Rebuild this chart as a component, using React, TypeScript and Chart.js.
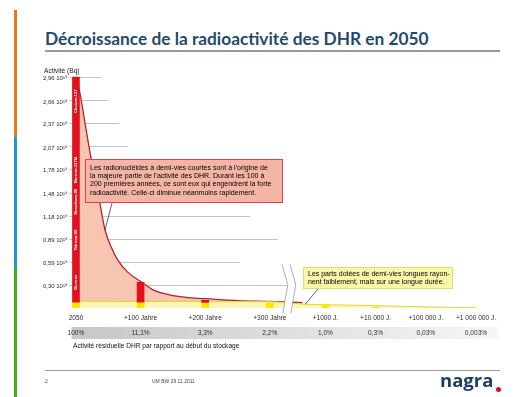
import React, { useEffect, useRef } from 'react';
import { Chart, registerables } from 'chart.js';

Chart.register(...registerables);

// ---------- data ----------
const YEARS = [0, 100, 200, 300, 1000, 10000, 100000, 1000000];
const X_LABELS = ['2050', '+100 Jahre', '+200 Jahre', '+300 Jahre', '+1000 J.', '+10 000 J.', '+100 000 J.', '+1 000 000 J.'];
const RESIDUAL_LABELS = ['100%', '11,1%', '3,3%', '2,2%', '1,0%', '0,3%', '0,03%', '0,003%'];
const Y_TICKS = [0.30, 0.59, 0.89, 1.18, 1.48, 1.78, 2.07, 2.37, 2.66, 2.96];
// activity in 10^19 Bq
const BAR_TOTAL = [2.96, 0.33, 0.098, 0.06, 0.045, 0.012, 0.002, 0.0003];
const BAR_LONG = [0.075, 0.075, 0.07, 0.06, 0.045, 0.012, 0.002, 0.0003];
const CURVE_YEARS = [0, 6, 14, 24, 37, 45, 54, 65, 80, 100, 120, 170, 200, 250, 300, 350];
const CURVE_TOTAL = [2.96, 2.76, 2.37, 1.89, 1.34, 1.0, 0.79, 0.61, 0.46, 0.34, 0.23, 0.135, 0.12, 0.095, 0.085, 0.07];
const LONG_YEARS = [0, 100, 200, 300, 350, 1000, 10000, 100000, 1000000];
const LONG_VALUES = [0.085, 0.084, 0.082, 0.08, 0.05, 0.042, 0.03, 0.015, 0.003];
const NUCLIDES = ['Cäsium-137', 'Barium-137M', 'Strontium-90', 'Yttrium-90', 'Diverse'];
const NUCLIDE_LEVELS = [2.65, 1.77, 1.36, 0.87, 0.33];

// broken time axis: linear over the first 300 years, logarithmic afterwards
const xf = (yr: number) => (yr <= 300 ? yr / 100 : 3.86 + 0.777 * (Math.log10(yr) - 3));

const FONT = '"Liberation Sans", Arial, Helvetica, sans-serif';
// how far (in axis units) each horizontal guide line reaches
const GRID_REACH = [3.31, 2.54, 3.13, 2.69, 1.15, 1.15, 0.8, 0.67, 0.5, 0.39];

const decor = {
  id: 'decor',
  beforeDraw(chart: any) {
    const { ctx, scales } = chart;
    const x = scales.x, x2 = scales.x2, y = scales.y;
    ctx.save();
    // residual activity band
    const g = ctx.createLinearGradient(x.left, 0, x.right, 0);
    g.addColorStop(0, '#c6c6c6');
    g.addColorStop(1, '#f6f6f6');
    ctx.fillStyle = g;
    ctx.fillRect(x.left + 2, x2.top + 3, x.right - x.left, 12);
    // guide lines
    ctx.strokeStyle = '#b4b4b4';
    ctx.lineWidth = 0.8;
    Y_TICKS.forEach((v, i) => {
      const py = Math.round(y.getPixelForValue(v)) + 0.5;
      ctx.beginPath();
      ctx.moveTo(x.left, py);
      ctx.lineTo(x.getPixelForValue(GRID_REACH[i]), py);
      ctx.stroke();
    });
    ctx.restore();
  },
  afterDatasetsDraw(chart: any) {
    const { ctx, scales } = chart;
    const x = scales.x, y = scales.y;
    ctx.save();
    // nuclide names in the 2050 bar
    const bar = chart.getDatasetMeta(3).data[0];
    ctx.fillStyle = '#ffffff';
    ctx.font = 'bold 4.2px ' + FONT;
    ctx.textAlign = 'center';
    ctx.textBaseline = 'middle';
    NUCLIDES.forEach((n, i) => {
      ctx.save();
      ctx.translate(bar.x + 0.3, y.getPixelForValue(NUCLIDE_LEVELS[i]));
      ctx.rotate(-Math.PI / 2);
      ctx.fillText(n, 0, 0);
      ctx.restore();
    });
    // axis break
    const bx = x.getPixelForValue(3) + 12;
    const top = y.getPixelForValue(0.56);
    const bot = chart.chartArea.bottom + 5;
    const mid = (top + bot) / 2 - 4;
    const gap = 8;
    ctx.beginPath();
    ctx.moveTo(bx, top);
    ctx.lineTo(bx + 6, mid);
    ctx.lineTo(bx + 1, bot);
    ctx.lineTo(bx + 1 + gap, bot);
    ctx.lineTo(bx + 6 + gap, mid);
    ctx.lineTo(bx + gap, top);
    ctx.closePath();
    ctx.fillStyle = '#ffffff';
    ctx.fill();
    ctx.strokeStyle = '#9a9a9a';
    ctx.lineWidth = 0.8;
    ctx.beginPath();
    ctx.moveTo(bx, top);
    ctx.lineTo(bx + 6, mid);
    ctx.lineTo(bx + 1, bot);
    ctx.moveTo(bx + gap, top);
    ctx.lineTo(bx + 6 + gap, mid);
    ctx.lineTo(bx + 1 + gap, bot);
    ctx.stroke();
    // callout pointers
    ctx.strokeStyle = '#3a3a3a';
    ctx.lineWidth = 0.8;
    ctx.beginPath();
    ctx.moveTo(112, 203);
    ctx.lineTo(x.getPixelForValue(xf(45)), y.getPixelForValue(1.0));
    ctx.moveTo(318, 289);
    ctx.lineTo(x.getPixelForValue(xf(400)), y.getPixelForValue(0.05));
    ctx.stroke();
    ctx.restore();
  },
};

const tickPositions = (s: any) => {
  s.ticks = YEARS.map((v) => ({ value: xf(v) }));
};

export default function App() {
  const ref = useRef<HTMLCanvasElement>(null);
  useEffect(() => {
    const shortBars = YEARS.map((yr, i) => ({ x: xf(yr), y: [BAR_LONG[i], BAR_TOTAL[i]] })).filter(
      (_d, i) => BAR_TOTAL[i] > BAR_LONG[i]
    );
    const chart = new Chart(ref.current as HTMLCanvasElement, {
      type: 'bar',
      data: {
        datasets: [
          {
            type: 'line',
            label: 'Aktivität gesamt',
            data: CURVE_YEARS.map((yr, i) => ({ x: xf(yr), y: CURVE_TOTAL[i] })),
            borderColor: '#b3232b',
            borderWidth: 1.3,
            backgroundColor: '#f7c5b0',
            fill: 'origin',
            pointRadius: 0,
            cubicInterpolationMode: 'monotone',
            order: 5,
          },
          {
            type: 'line',
            label: 'langlebig',
            data: LONG_YEARS.map((yr, i) => ({ x: xf(yr), y: LONG_VALUES[i] })),
            borderColor: '#e0d838',
            borderWidth: 1,
            backgroundColor: '#fcf6b4',
            fill: 'origin',
            pointRadius: 0,
            cubicInterpolationMode: 'monotone',
            order: 4,
          },
          {
            type: 'bar',
            label: 'langlebig (Balken)',
            data: YEARS.map((yr, i) => ({ x: xf(yr), y: [0, BAR_LONG[i]] })),
            backgroundColor: '#ffe400',
            barThickness: 7,
            grouped: false,
            order: 2,
          },
          {
            type: 'bar',
            label: 'kurzlebig (Balken)',
            data: shortBars,
            backgroundColor: '#e1121d',
            barThickness: 7,
            grouped: false,
            order: 1,
          },
        ] as any,
      },
      options: {
        animation: false,
        responsive: false,
        maintainAspectRatio: false,
        layout: { padding: { left: 0, right: 18, top: 70, bottom: 56 } },
        plugins: { legend: { display: false }, tooltip: { enabled: false } },
        scales: {
          x: {
            type: 'linear',
            position: 'bottom',
            min: -0.1,
            max: 6.5,
            offset: false,
            weight: 0,
            grid: { display: false, drawTicks: false },
            border: { display: false },
            afterBuildTicks: tickPositions,
            afterFit: (s: any) => { s.height = 16; },
            ticks: {
              autoSkip: false,
              maxRotation: 0,
              minRotation: 0,
              padding: 6,
              color: '#2a2a2a',
              font: { family: FONT, size: 6.6 },
              callback: (_v: any, i: number) => X_LABELS[i],
            },
          },
          x2: {
            type: 'linear',
            position: 'bottom',
            min: -0.1,
            max: 6.5,
            offset: false,
            weight: 1,
            grid: { display: false, drawTicks: false },
            border: { display: false },
            afterBuildTicks: tickPositions,
            afterFit: (s: any) => { s.height = 17; },
            ticks: {
              autoSkip: false,
              maxRotation: 0,
              minRotation: 0,
              padding: 5.5,
              color: '#333333',
              font: { family: FONT, size: 6.6 },
              callback: (_v: any, i: number) => RESIDUAL_LABELS[i],
            },
          },
          y: {
            type: 'linear',
            min: 0,
            max: 3.05,
            grid: { display: false, drawTicks: false },
            border: { display: false },
            afterBuildTicks: (s: any) => { s.ticks = Y_TICKS.map((v) => ({ value: v })); },
            afterFit: (s: any) => { s.width = 69.5; },
            ticks: {
              padding: 2,
              labelOffset: 1.5,
              color: '#2a2a2a',
              font: { family: FONT, size: 6 },
              callback: (v: any) => Number(v).toFixed(2).replace('.', ',') + ' 10¹⁹',
            },
          },
        },
      } as any,
      plugins: [decor],
    });
    return () => chart.destroy();
  }, []);

  const txt: React.CSSProperties = { position: 'absolute', fontFamily: FONT, whiteSpace: 'nowrap', color: '#111' };

  return (
    <div style={{ position: 'fixed', left: 0, top: 0, width: 514, height: 397, background: '#ffffff', overflow: 'hidden' }}>
      {/* side stripe */}
      <div style={{ position: 'absolute', left: 14, top: 10, width: 3, height: 127, background: '#f07814' }} />
      <div style={{ position: 'absolute', left: 14, top: 137, width: 3, height: 131, background: '#1e96d2' }} />
      <div style={{ position: 'absolute', left: 14, top: 268, width: 3, height: 129, background: '#3cb41e' }} />
      {/* title */}
      <div style={{ ...txt, left: 45, top: 30, fontFamily: 'Lato, "Open Sans", sans-serif', fontWeight: 700, fontSize: 17.3, lineHeight: '17px', color: '#1f4b6b' }}>
        Décroissance de la radioactivité des DHR en 2050
      </div>
      <div style={{ position: 'absolute', left: 45, top: 50, width: 455, height: 1.5, background: '#8d9ba2' }} />

      <canvas ref={ref} width={514} height={397} style={{ position: 'absolute', left: 0, top: 0, width: 514, height: 397 }} />

      <div style={{ ...txt, left: 44, top: 67, fontSize: 6.6, lineHeight: '8px', color: '#222' }}>Activité (Bq)</div>

      {/* callouts */}
      <div style={{ position: 'absolute', left: 85, top: 159, width: 196, height: 42, background: '#f4b5a6', border: '1px solid #de4248', boxSizing: 'content-box' }}>
        <div style={{ ...txt, position: 'relative', left: 4, top: 4, fontSize: 7, lineHeight: '8.2px', color: '#000' }}>
          Les radionucléides à demi-vies courtes sont à l’origine de<br />
          la majeure partie de l’activité des DHR. Durant les 100 à<br />
          200 premières années, ce sont eux qui engendrent la forte<br />
          radioactivité. Celle-ci diminue néanmoins rapidement.
        </div>
      </div>
      <div style={{ position: 'absolute', left: 303, top: 267, width: 148, height: 20, background: '#f9f7a8', border: '1px solid #e2dc6c', boxSizing: 'content-box' }}>
        <div style={{ ...txt, position: 'relative', left: 4, top: 2, fontSize: 7, lineHeight: '8px', color: '#000' }}>
          Les parts dotées de demi-vies longues rayon-<br />
          nent faiblement, mais sur une longue durée.
        </div>
      </div>

      {/* caption */}
      <div style={{ ...txt, left: 73, top: 342, fontSize: 6.6, lineHeight: '8px', color: '#111' }}>
        Activité résiduelle DHR par rapport au début du stockage
      </div>

      {/* footer */}
      <div style={{ position: 'absolute', left: 45, top: 369.5, width: 455, height: 1, background: '#9a9a9a' }} />
      <div style={{ ...txt, left: 45, top: 378, fontSize: 5, lineHeight: '6px', color: '#444' }}>2</div>
      <div style={{ ...txt, left: 152, top: 378, fontSize: 5, lineHeight: '6px', color: '#444' }}>UM BW 29.11.2011</div>
      <div style={{ ...txt, left: 440, top: 370, fontFamily: '"Open Sans", Lato, sans-serif', fontWeight: 700, fontSize: 18.5, lineHeight: '19px', color: '#1b3d5f' }}>nagra</div>
      <div style={{ position: 'absolute', left: 495.5, top: 386.5, width: 5, height: 5, borderRadius: '50%', background: '#e30613' }} />
    </div>
  );
}
